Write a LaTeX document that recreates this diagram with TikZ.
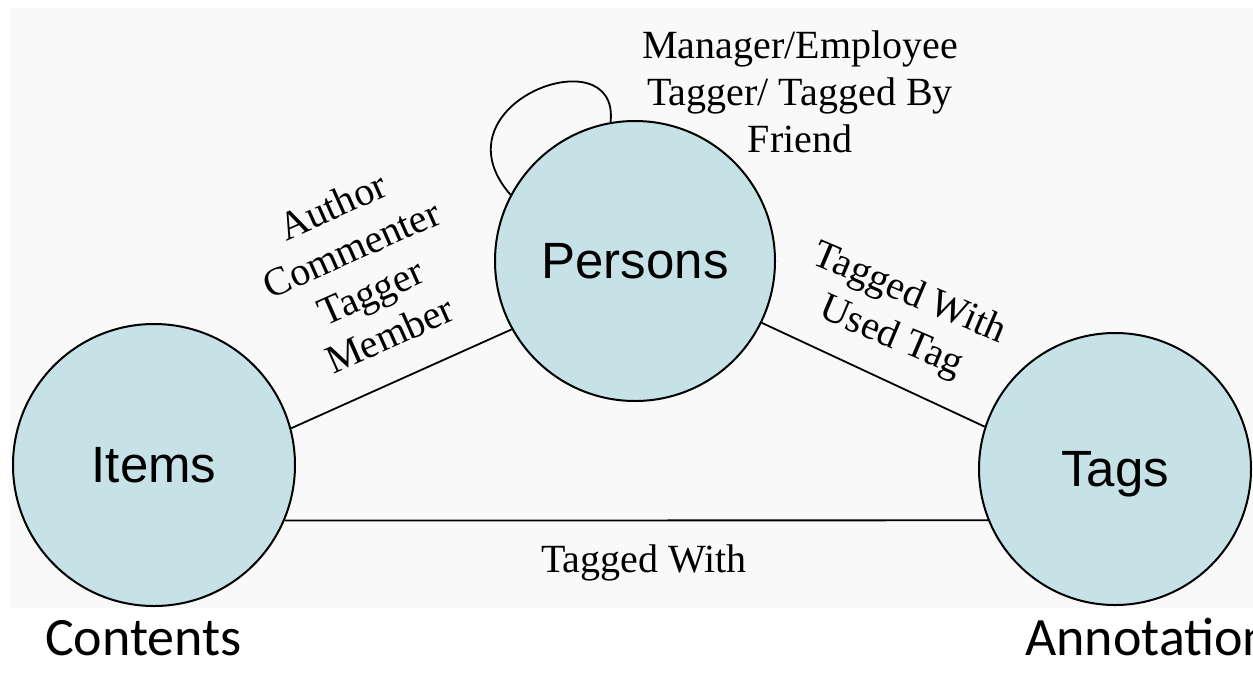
\documentclass[tikz,border=0pt]{standalone}
\usepackage{fontspec}
\setmainfont{Liberation Serif}
\newfontfamily\arialf{Liberation Sans}
\newfontfamily\calibf{Carlito}
\definecolor{cfill}{HTML}{C6E2E7}
\definecolor{bggray}{HTML}{F9F9F9}
\begin{document}
\begin{tikzpicture}[x=1pt,y=-1pt,
  ent/.style={circle,draw=black,line width=2pt,fill=cfill,text depth=0pt,inner sep=0pt,
    font=\arialf\fontsize{51}{60}\selectfont},
  rel/.style={line width=1.8pt,draw=black},
  lbl/.style={align=center,inner sep=0pt,font=\fontsize{40}{47}\selectfont},
  caption/.style={anchor=base west,inner sep=0pt,font=\calibf\fontsize{54}{60}\selectfont}]
\useasboundingbox (0,0) rectangle (1253,673);
\fill[white] (0,0) rectangle (1253,673);
\fill[bggray] (10,8) rectangle (1253,608);

\node[ent,minimum size=282pt] (i) at (154,465) {Items};
\node[ent,minimum size=280pt] (p) at (635,261) {Persons};
\node[ent,minimum size=272pt] (t) at (1115,469) {Tags};

\draw[rel] (i.15) -- (p.209);
\draw[rel] (p.-26) -- (t.162);
\draw[rel] (i.-23) -- (t.202);
\draw[rel] (p.100) .. controls +(10,-88) and +(-80,-92) .. (p.152);

\node[lbl] (lm) at (800,92) {Manager/Employee\\Tagger/ Tagged By\\Friend};
\node[lbl,rotate=24] (la) at (361,270) {Author\\Commenter\\Tagger\\Member};
\node[lbl,rotate=-23] (lt) at (900,316) {Tagged With\\Used Tag};
\node[lbl,anchor=base] (lb) at (644,572) {Tagged With};

\node[caption] (c) at (45,655) {Contents};
\node[caption] (a) at (1025,655) {Annotation};
\end{tikzpicture}
\end{document}
